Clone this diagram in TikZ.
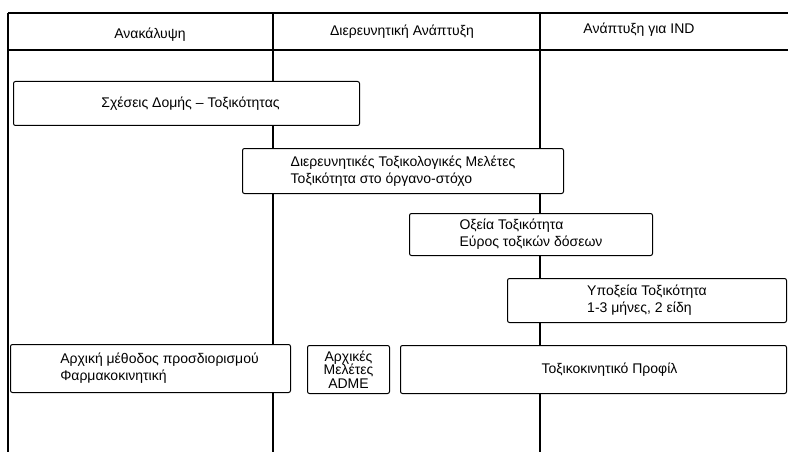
\documentclass[tikz,border=0pt]{standalone}
\usepackage{fontspec}
\setmainfont{Liberation Sans}
\begin{document}
\begin{tikzpicture}[x=1pt,y=-1pt,
  divider/.style={line width=1.6pt,black},
  box/.style={draw,line width=1pt,rounded corners=2pt,fill=white,anchor=north west,
    inner sep=0pt,align=left,font=\fontsize{14}{17}\selectfont},
  head/.style={font=\fontsize{14}{17}\selectfont}]
\useasboundingbox (0,0) rectangle (788,452);
% frame lines
\coordinate (tl) at (8,13);
\coordinate (tr) at (788,13);
\coordinate (hl) at (8,50);
\coordinate (hr) at (788,50);
\coordinate (v1t) at (273,13);
\coordinate (v1b) at (273,452);
\coordinate (v2t) at (540,13);
\coordinate (v2b) at (540,452);
\coordinate (bl) at (8,452);
\draw[divider] (tl) -- (tr);
\draw[divider] (hl) -- (hr);
\draw[divider] (tl) -- (bl);
\draw[divider] (v1t) -- (v1b);
\draw[divider] (v2t) -- (v2b);
% headers
\node[head] (h1) at (150,35) {Ανακάλυψη};
\node[head] (h2) at (402,32) {Διερευνητική Ανάπτυξη};
\node[head] (h3) at (639,30) {Ανάπτυξη για IND};
% boxes
\node[box,minimum width=346,minimum height=44,align=center] (sar) at (13,81) {\hspace*{8pt}Σχέσεις Δομής – Τοξικότητας};
\node[box,minimum width=321,minimum height=45] (expl) at (242,148) {Διερευνητικές Τοξικολογικές Μελέτες\\Τοξικότητα στο όργανο-στόχο};
\node[box,minimum width=243,minimum height=42] (acute) at (409,213) {Οξεία Τοξικότητα\\Εύρος τοξικών δόσεων};
\node[box,minimum width=279,minimum height=44] (subac) at (507,278) {Υποξεία Τοξικότητα\\1-3 μήνες, 2 είδη};
\node[box,minimum width=280,minimum height=48] (pk) at (10,344) {\hspace*{18pt}Αρχική μέθοδος προσδιορισμού\\\hspace*{18pt}Φαρμακοκινητική};
\node[box,minimum width=82,minimum height=48,align=center,font=\fontsize{14}{13.5}\selectfont] (adme) at (307,345) {Αρχικές\\Μελέτες\\ADME};
\node[box,minimum width=386,minimum height=48,align=center] (tk) at (400,345) {\hspace*{32pt}Τοξικοκινητικό Προφίλ};
\end{tikzpicture}
\end{document}
